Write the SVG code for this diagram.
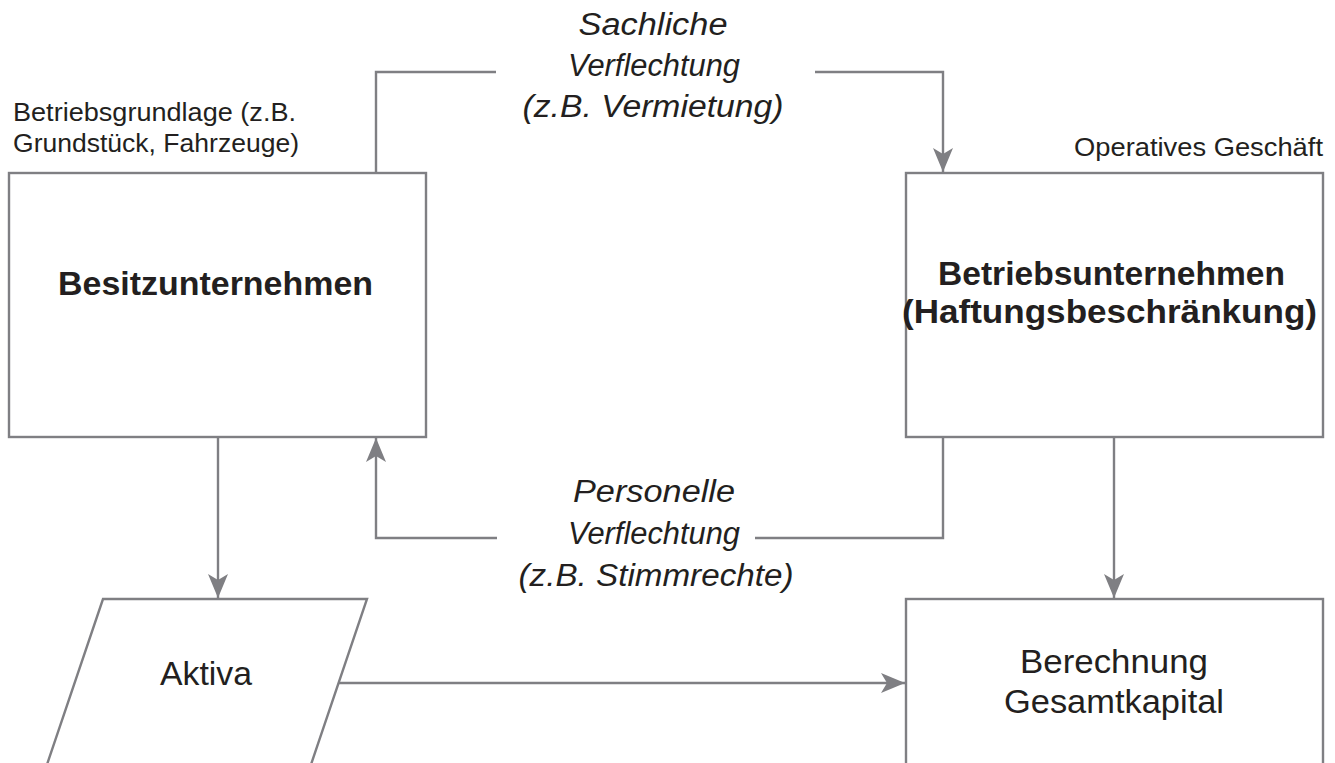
<svg xmlns="http://www.w3.org/2000/svg" width="1335" height="763" viewBox="0 0 1335 763">
<style>
.shape{fill:#ffffff;stroke:#7f7f83;stroke-width:2.4}
.conn{fill:none;stroke:#7f7f83;stroke-width:2.4}
.t{font-family:"Liberation Sans",Arial,sans-serif;fill:#231f20}
.small{font-size:25px}
.bold{font-size:33px;font-weight:bold}
.lbl{font-size:31px;font-style:italic;text-anchor:middle}
.mid{font-size:33px}
</style>
<defs>
<marker id="arr" markerUnits="userSpaceOnUse" markerWidth="26" markerHeight="22" viewBox="0 0 26 22" refX="24" refY="11" orient="auto">
<path d="M0,1 L24,11 L0,21 L6,11 Z" fill="#7f7f83"/>
</marker>
</defs>
<rect width="1335" height="763" fill="#ffffff"/>

<g id="connectors">
<path class="conn" d="M376,173 V72 H496"/>
<path class="conn" d="M815,72 H943 V172" marker-end="url(#arr)"/>
<path class="conn" d="M943,437 V538 H755"/>
<path class="conn" d="M497,538 H376 V438" marker-end="url(#arr)"/>
<path class="conn" d="M218,437 V598" marker-end="url(#arr)"/>
<path class="conn" d="M1114,437 V598" marker-end="url(#arr)"/>
<path class="conn" d="M339,683 H905" marker-end="url(#arr)"/>
</g>

<g id="label-sachlich">
<text class="t lbl" x="653" y="35" textLength="149" lengthAdjust="spacingAndGlyphs">Sachliche</text>
<text class="t lbl" x="654" y="76" textLength="172" lengthAdjust="spacingAndGlyphs">Verflechtung</text>
<text class="t lbl" x="653" y="117" textLength="261" lengthAdjust="spacingAndGlyphs">(z.B. Vermietung)</text>
</g>

<g id="label-personell">
<text class="t lbl" x="654" y="502" textLength="162" lengthAdjust="spacingAndGlyphs">Personelle</text>
<text class="t lbl" x="654" y="544" textLength="172" lengthAdjust="spacingAndGlyphs">Verflechtung</text>
<text class="t lbl" x="656" y="586" textLength="275" lengthAdjust="spacingAndGlyphs">(z.B. Stimmrechte)</text>
</g>

<g id="besitz">
<rect class="shape" x="9" y="173" width="417" height="264"/>
<text class="t bold" x="58" y="295" textLength="315" lengthAdjust="spacingAndGlyphs">Besitzunternehmen</text>
<text class="t small" x="13" y="121" textLength="283" lengthAdjust="spacingAndGlyphs">Betriebsgrundlage (z.B.</text>
<text class="t small" x="13" y="152" textLength="286" lengthAdjust="spacingAndGlyphs">Grundstück, Fahrzeuge)</text>
</g>

<g id="betrieb">
<rect class="shape" x="906" y="173" width="417" height="264"/>
<text class="t bold" x="938" y="285" textLength="347" lengthAdjust="spacingAndGlyphs">Betriebsunternehmen</text>
<text class="t bold" x="902" y="323" textLength="415" lengthAdjust="spacingAndGlyphs">(Haftungsbeschränkung)</text>
<text class="t small" x="1074" y="156" textLength="249" lengthAdjust="spacingAndGlyphs">Operatives Geschäft</text>
</g>

<g id="aktiva">
<polygon class="shape" points="103,599 367,599 299,800 35,800"/>
<text class="t mid" x="160" y="685" font-size="32" textLength="92" lengthAdjust="spacingAndGlyphs">Aktiva</text>
</g>

<g id="gesamtkapital">
<rect class="shape" x="906" y="599" width="417" height="220"/>
<text class="t mid" x="1020" y="673" textLength="188" lengthAdjust="spacingAndGlyphs">Berechnung</text>
<text class="t mid" x="1004" y="713" textLength="220" lengthAdjust="spacingAndGlyphs">Gesamtkapital</text>
</g>
</svg>
